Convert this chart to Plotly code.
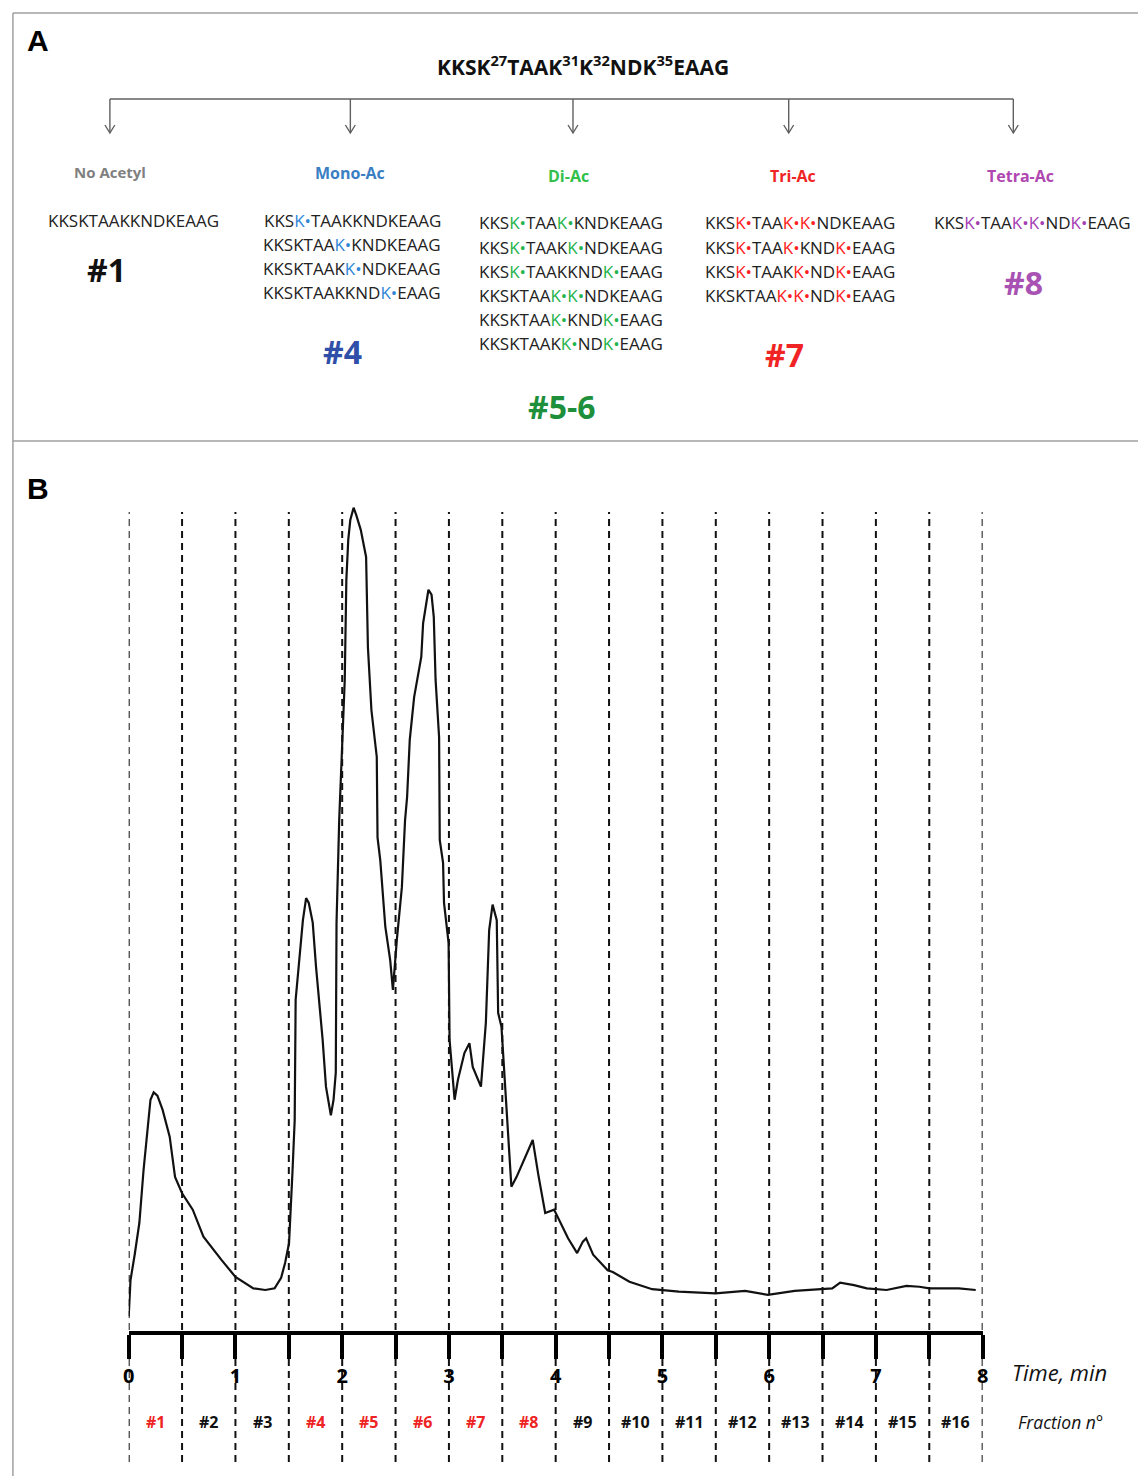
import plotly.graph_objects as go

# ---------------- DATA ----------------
# Panel B: chromatogram trace (time in min, absorbance in arbitrary units)
time_min = [0.00, 0.017, 0.056, 0.10, 0.139, 0.184, 0.204, 0.234, 0.269, 0.317,
            0.384, 0.434, 0.50, 0.60, 0.70, 0.867, 1.00, 1.168, 1.28, 1.367,
            1.428, 1.465, 1.502, 1.534, 1.555, 1.564, 1.601, 1.632, 1.662, 1.687,
            1.724, 1.755, 1.817, 1.848, 1.894, 1.919, 1.940, 1.947, 1.972, 1.990,
            2.024, 2.039, 2.057, 2.076, 2.107, 2.132, 2.174, 2.224, 2.241, 2.274,
            2.324, 2.331, 2.357, 2.404, 2.450, 2.475, 2.512, 2.559, 2.589, 2.608,
            2.633, 2.674, 2.741, 2.758, 2.808, 2.837, 2.858, 2.875, 2.908, 2.914,
            2.945, 2.954, 2.997, 3.006, 3.053, 3.084, 3.145, 3.192, 3.223, 3.30,
            3.346, 3.377, 3.409, 3.448, 3.461, 3.492, 3.516, 3.548, 3.585, 3.634,
            3.708, 3.785, 3.838, 3.902, 3.985, 4.035, 4.116, 4.201, 4.255, 4.285,
            4.351, 4.487, 4.535, 4.691, 4.904, 5.154, 5.497, 5.775, 5.988, 6.239,
            6.480, 6.591, 6.665, 6.795, 6.915, 7.10, 7.286, 7.407, 7.50, 7.777, 7.935]
absorbance = [1.8, 6.2, 9.3, 13.2, 19.6, 26.1, 28.2, 29.1, 28.7, 27.0,
              23.7, 18.8, 16.8, 14.8, 11.5, 8.7, 6.6, 5.2, 5.0, 5.2,
              6.5, 8.3, 10.7, 19.3, 25.7, 40.4, 45.2, 50.1, 52.8, 52.2,
              49.8, 44.4, 35.5, 29.8, 26.3, 28.2, 31.5, 49.8, 62.3, 68.4,
              79.4, 91.6, 96.5, 98.9, 100.4, 99.5, 97.7, 94.4, 83.4, 75.7,
              70.0, 60.2, 57.4, 49.3, 45.2, 41.6, 47.7, 54.1, 62.3, 65.1,
              72.1, 77.3, 82.2, 86.3, 90.4, 89.8, 87.1, 79.4, 72.4, 59.9,
              57.1, 52.2, 47.3, 35.5, 28.2, 30.6, 33.9, 35.1, 32.2, 29.8,
              37.6, 48.9, 52.0, 50.1, 38.8, 37.1, 32.2, 25.7, 17.6, 18.8,
              20.9, 23.3, 19.0, 14.4, 14.8, 13.5, 11.3, 9.5, 10.9, 11.3,
              9.3, 7.4, 7.2, 6.0, 5.1, 4.8, 4.6, 4.9, 4.4, 4.9,
              5.1, 5.2, 5.9, 5.6, 5.2, 5.0, 5.5, 5.4, 5.2, 5.2, 5.0]

time_ticks = [0, 1, 2, 3, 4, 5, 6, 7, 8]
fraction_boundaries = [0.0, 0.5, 1.0, 1.5, 2.0, 2.5, 3.0, 3.5, 4.0, 4.5,
                       5.0, 5.5, 6.0, 6.5, 7.0, 7.5, 8.0]
fraction_labels = ["#1", "#2", "#3", "#4", "#5", "#6", "#7", "#8",
                   "#9", "#10", "#11", "#12", "#13", "#14", "#15", "#16"]
fraction_colors = ["#ee2424", "#111111", "#111111", "#ee2424", "#ee2424", "#ee2424",
                   "#ee2424", "#ee2424", "#111111", "#111111", "#111111", "#111111",
                   "#111111", "#111111", "#111111", "#111111"]

# Panel A: peptide acetylation forms ("K*" = acetylated lysine)
peptide_title = "KKSK<sup>27</sup>TAAK<sup>31</sup>K<sup>32</sup>NDK<sup>35</sup>EAAG"
group_names = ["No Acetyl", "Mono-Ac", "Di-Ac", "Tri-Ac", "Tetra-Ac"]
group_colors = ["#808080", "#3a7fc4", "#33c04a", "#f02424", "#b046b0"]
group_fractions = ["#1", "#4", "#5-6", "#7", "#8"]
fraction_label_colors = ["#111111", "#2f4fa8", "#1e8f3a", "#f02424", "#a852b4"]
seq_no_acetyl = ["KKSKTAAKKNDKEAAG"]
seq_mono = ["KKSK*TAAKKNDKEAAG", "KKSKTAAK*KNDKEAAG",
            "KKSKTAAKK*NDKEAAG", "KKSKTAAKKNDK*EAAG"]
seq_di = ["KKSK*TAAK*KNDKEAAG", "KKSK*TAAKK*NDKEAAG", "KKSK*TAAKKNDK*EAAG",
          "KKSKTAAK*K*NDKEAAG", "KKSKTAAK*KNDK*EAAG", "KKSKTAAKK*NDK*EAAG"]
seq_tri = ["KKSK*TAAK*K*NDKEAAG", "KKSK*TAAK*KNDK*EAAG",
           "KKSK*TAAKK*NDK*EAAG", "KKSKTAAK*K*NDK*EAAG"]
seq_tetra = ["KKSK*TAAK*K*NDK*EAAG"]
seq_colors = ["#222222", "#2f86d6", "#22b34a", "#ff2020", "#a43cb4"]

# ---------------- LAYOUT HELPERS ----------------
W, H = 1144, 1476
def PX(x):
    return x / W
def PY(y):
    return 1 - y / H

FONT = "Open Sans"

fig = go.Figure()

fig.add_trace(go.Scatter(x=time_min, y=absorbance, mode="lines",
                         line=dict(color="#111111", width=2.2),
                         hoverinfo="skip", showlegend=False))

shapes = []
annotations = []

# frame borders
shapes.append(dict(type="line", xref="paper", yref="paper", x0=PX(7), x1=PX(1144),
                   y0=PY(13), y1=PY(13), line=dict(color="#a0a0a0", width=1.5)))
shapes.append(dict(type="line", xref="paper", yref="paper", x0=PX(7), x1=PX(7),
                   y0=PY(13), y1=PY(1476), line=dict(color="#a0a0a0", width=1.5)))
shapes.append(dict(type="line", xref="paper", yref="paper", x0=PX(7), x1=PX(1144),
                   y0=PY(441), y1=PY(441), line=dict(color="#a0a0a0", width=1.5)))

# panel letters
annotations.append(dict(text="<b>A</b>", x=PX(19), y=PY(40), xref="paper", yref="paper",
                        xanchor="left", yanchor="middle", showarrow=False,
                        font=dict(family="Liberation Sans", size=30, color="black")))
annotations.append(dict(text="<b>B</b>", x=PX(19), y=PY(488), xref="paper", yref="paper",
                        xanchor="left", yanchor="middle", showarrow=False,
                        font=dict(family="Liberation Sans", size=30, color="black")))

# Panel A: title and tree
annotations.append(dict(text="<b>" + peptide_title + "</b>", x=PX(583), y=PY(66),
                        xref="paper", yref="paper", xanchor="center", yanchor="middle",
                        showarrow=False, font=dict(family=FONT, size=21, color="#111111")))
col_x = [105, 348, 573, 791, 1018]
gray = "#606060"
shapes.append(dict(type="line", xref="paper", yref="paper", x0=PX(col_x[0]), x1=PX(col_x[-1]),
                   y0=PY(99), y1=PY(99), line=dict(color=gray, width=1.6)))
for cx in col_x:
    shapes.append(dict(type="line", xref="paper", yref="paper", x0=PX(cx), x1=PX(cx),
                       y0=PY(99), y1=PY(133), line=dict(color=gray, width=1.4)))
    shapes.append(dict(type="path", xref="paper", yref="paper",
                       path=f"M {PX(cx-5)},{PY(125)} L {PX(cx)},{PY(133)} L {PX(cx+5)},{PY(125)}",
                       line=dict(color=gray, width=1.4)))

group_label_pos = [(105, 172), (348, 173), (568, 176), (795, 176), (1025, 176)]
group_label_size = [15, 16, 16, 16, 16]
for name, col, (gx, gy), gs in zip(group_names, group_colors, group_label_pos, group_label_size):
    annotations.append(dict(text="<b>" + name + "</b>", x=PX(gx), y=PY(gy), xref="paper",
                            yref="paper", xanchor="center", yanchor="middle", showarrow=False,
                            font=dict(family=FONT, size=gs, color=col)))

def seq_html(s, color):
    return s.replace("K*", f"<span style='color:{color}'>K•</span>")

seq_groups = [seq_no_acetyl, seq_mono, seq_di, seq_tri, seq_tetra]
seq_centers = [129, 350, 571, 802, 1037]
seq_first_y = [220, 220, 223, 223, 223]
seq_step = [24.3, 24.3, 24.2, 24.2, 24.2]
for grp, cx, fy, st, colr in zip(seq_groups, seq_centers, seq_first_y, seq_step, seq_colors):
    for i, s in enumerate(grp):
        annotations.append(dict(text=seq_html(s, colr), x=PX(cx), y=PY(fy + i * st),
                                xref="paper", yref="paper", xanchor="center", yanchor="middle",
                                showarrow=False, font=dict(family=FONT, size=17, color="#222222")))

frac_pos = [(102, 270), (340, 352), (562, 407), (787, 354), (1028, 283)]
for lab, col, (fx, fy) in zip(group_fractions, fraction_label_colors, frac_pos):
    annotations.append(dict(text="<b>" + lab + "</b>", x=PX(fx), y=PY(fy), xref="paper",
                            yref="paper", xanchor="center", yanchor="middle", showarrow=False,
                            font=dict(family=FONT, size=32, color=col)))

# Panel B: dashed fraction boundaries
for b in fraction_boundaries:
    shapes.append(dict(type="line", xref="x", yref="paper", x0=b, x1=b,
                       y0=PY(1462), y1=PY(512), layer="below",
                       line=dict(color="#111111", width=2, dash="7px,5px")))

# fraction labels
for i, (lab, col) in enumerate(zip(fraction_labels, fraction_colors)):
    cx = (fraction_boundaries[i] + fraction_boundaries[i + 1]) / 2
    annotations.append(dict(text="<b>" + lab + "</b>", x=cx, y=PY(1422), xref="x", yref="paper",
                            xanchor="center", yanchor="middle", showarrow=False,
                            font=dict(family=FONT, size=16, color=col)))

annotations.append(dict(text="<i>Time, min</i>", x=PX(1015), y=PY(1372), xref="paper",
                        yref="paper", xanchor="left", yanchor="middle", showarrow=False,
                        font=dict(family=FONT, size=22, color="#111111")))
annotations.append(dict(text="<i>Fraction n°</i>", x=PX(1021), y=PY(1422), xref="paper",
                        yref="paper", xanchor="left", yanchor="middle", showarrow=False,
                        font=dict(family=FONT, size=17.5, color="#111111")))

fig.update_layout(
    width=W, height=H, autosize=False,
    margin=dict(l=0, r=0, t=0, b=0),
    paper_bgcolor="white", plot_bgcolor="white",
    shapes=shapes, annotations=annotations, showlegend=False,
    xaxis=dict(domain=[PX(124), PX(987)], range=[0, 8], showgrid=False, zeroline=False,
               showline=True, linewidth=4, linecolor="black",
               tickmode="array", tickvals=time_ticks, ticktext=[str(t) for t in time_ticks],
               ticks="outside", ticklen=24, tickwidth=4, tickcolor="black",
               tickfont=dict(family=FONT, size=20, color="black", weight="bold"),
               minor=dict(ticks="outside", ticklen=24, tickwidth=4, tickcolor="black",
                          dtick=0.5, tick0=0, showgrid=False),
               fixedrange=True),
    yaxis=dict(domain=[PY(1331), PY(470)], range=[0, 105], visible=False,
               showgrid=False, zeroline=False, fixedrange=True),
)

fig.write_html("out.html",
               config={"displayModeBar": False, "staticPlot": True},
               post_script="document.body.style.margin='0';document.body.style.overflow='hidden';"
                           "document.documentElement.style.overflow='hidden';")
